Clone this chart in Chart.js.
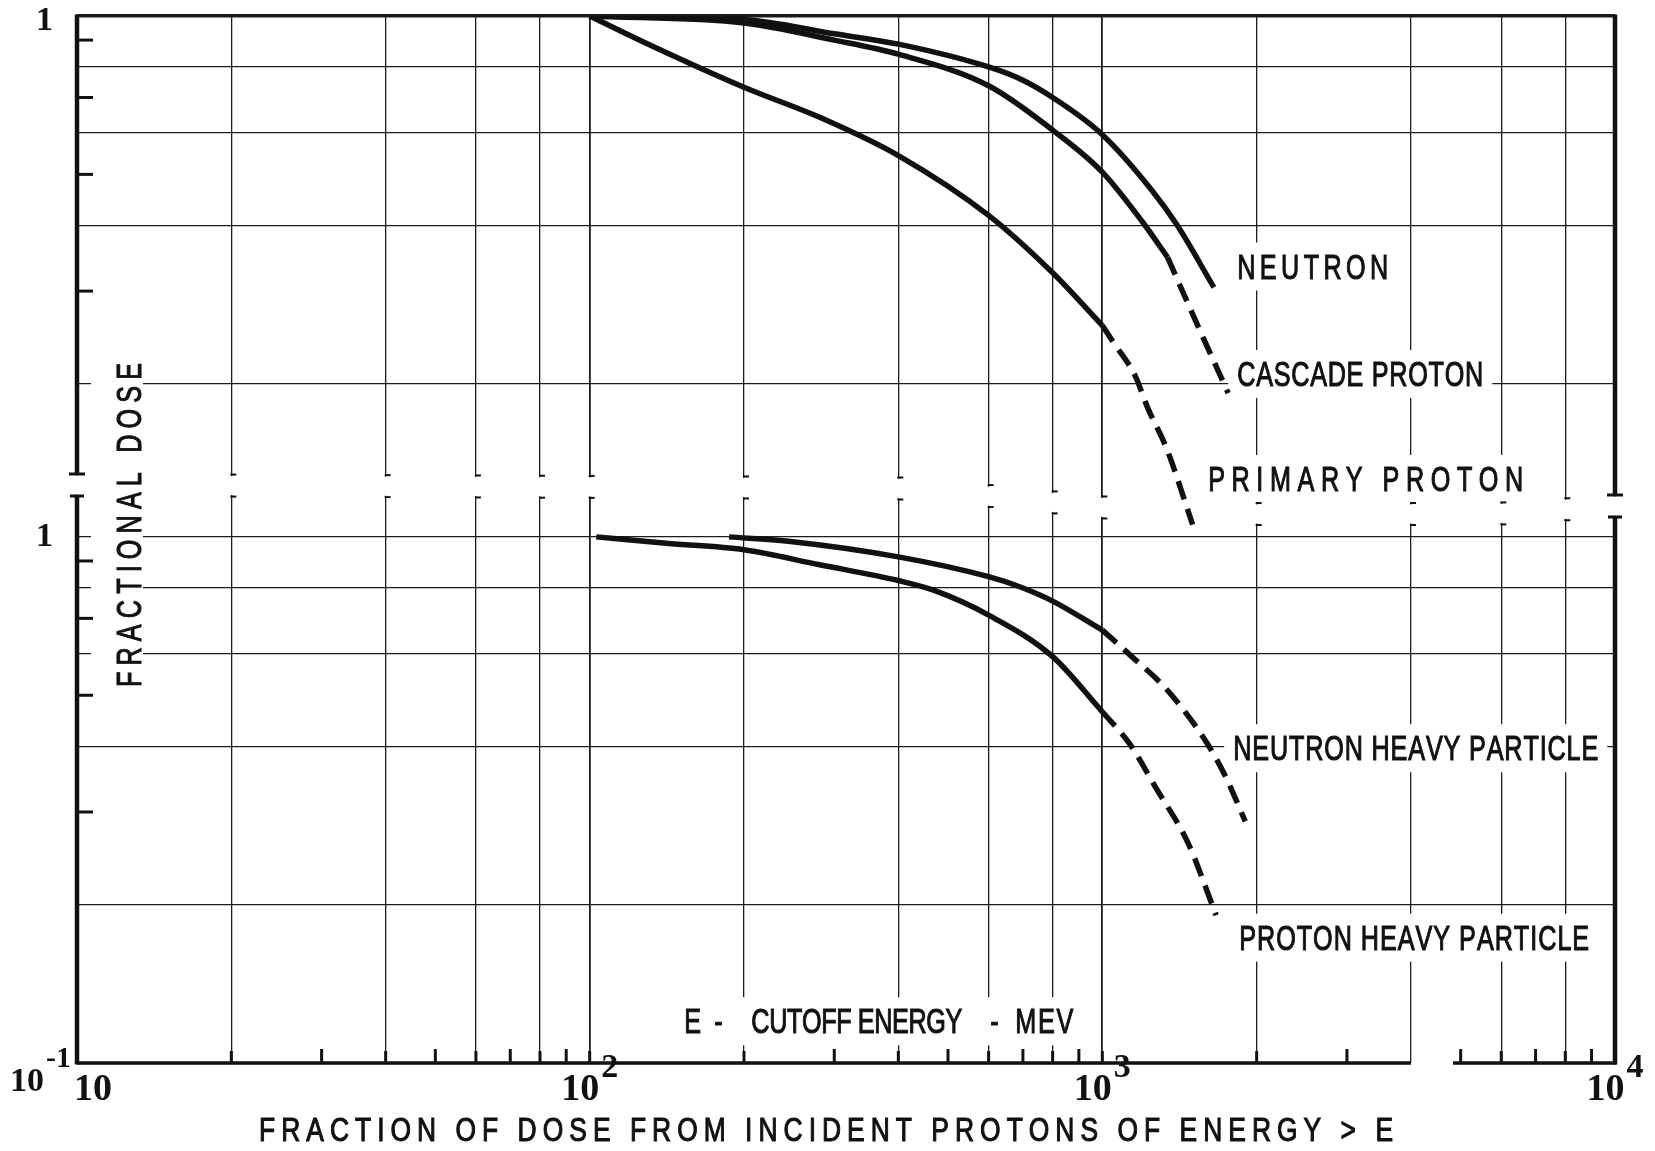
<!DOCTYPE html>
<html>
<head>
<meta charset="utf-8">
<title>Fractional dose vs cutoff energy</title>
<script src="https://cdn.jsdelivr.net/npm/chart.js@4.4.1/dist/chart.umd.min.js"></script>
<style>
  html, body { margin: 0; padding: 0; background: #ffffff; }
  #wrap { width: 1655px; height: 1151px; position: relative; }
</style>
</head>
<body>
<div id="wrap"><canvas id="dose" width="1655" height="1151"></canvas></div>
<script>
// ---------------------------------------------------------------------------
// Data: cutoff energy E (MeV) against fractional dose
// ---------------------------------------------------------------------------

// Upper panel
const neutronE          = [100, 200, 300, 400, 600, 700, 800, 1000, 1250, 1400, 1650];
const neutronDose       = [1.0, 0.985, 0.925, 0.884, 0.80, 0.755, 0.70, 0.595, 0.466, 0.40, 0.305];

const cascadeE          = [100, 200, 300, 400, 600, 800, 1000, 1200, 1340];
const cascadeDose       = [1.0, 0.97, 0.90, 0.846, 0.737, 0.607, 0.505, 0.405, 0.348];
const cascadeExtE       = [1340, 1535, 1760];
const cascadeExtDose    = [0.348, 0.258, 0.192];

const primaryE          = [100, 132, 200, 286, 400, 600, 800, 1000];
const primaryDose       = [1.0, 0.878, 0.732, 0.637, 0.543, 0.418, 0.325, 0.258];
const primaryExtE       = [1000, 1050, 1159, 1226, 1337, 1500];
const primaryExtDose    = [0.258, 0.24, 0.207, 0.180, 0.150, 0.108];

// Lower panel
const neutronHeavyE       = [187, 244, 400, 600, 692, 800, 1000];
const neutronHeavyDose    = [1.0, 0.981, 0.916, 0.840, 0.803, 0.755, 0.665];
const neutronHeavyExtE    = [1000, 1129, 1342, 1596, 1740, 1900];
const neutronHeavyExtDose = [0.665, 0.598, 0.510, 0.407, 0.350, 0.288];

const protonHeavyE        = [103, 141, 200, 281, 400, 470, 600, 800, 1000];
const protonHeavyDose     = [1.0, 0.972, 0.945, 0.885, 0.826, 0.791, 0.710, 0.592, 0.465];
const protonHeavyExtE     = [1000, 1129, 1273, 1469, 1667];
const protonHeavyExtDose  = [0.465, 0.405, 0.333, 0.262, 0.191];

// Axes
const xGridValues   = [10, 20, 40, 60, 80, 100, 200, 400, 600, 800, 1000, 2000, 4000, 6000, 8000, 10000];
const xMinorValues  = [30, 50, 70, 90, 300, 500, 700, 900, 3000, 5000, 7000, 9000];
const xDecades      = [10, 100, 1000, 10000];
const xDecadeSup    = ['', '2', '3', '4'];
const yGridUpper    = [0.2, 0.4, 0.6, 0.8, 1];
const yGridLower    = [0.1, 0.2, 0.4, 0.6, 0.8, 1];
const yMinorValues  = [0.3, 0.5, 0.7, 0.9];
const yLabelUpper   = '1';
const yLabelLower   = '1';
const yLabelBottom  = ['10', '-1'];
const xAxisGap      = [4000, 4830];      // the bottom axis line is interrupted here

const seriesNames = ['NEUTRON', 'CASCADE PROTON', 'PRIMARY PROTON',
                     'NEUTRON HEAVY PARTICLE', 'PROTON HEAVY PARTICLE'];
const xTitle  = 'FRACTION OF DOSE FROM INCIDENT PROTONS OF ENERGY > E';
const yTitle  = 'FRACTIONAL DOSE';
const eNote   = ['E', '-', 'CUTOFF ENERGY', '-', 'MEV'];

// ---------------------------------------------------------------------------
// Styling
// ---------------------------------------------------------------------------
const INK = '#111111';
const GRID = '#1c1c1c';
const SANS = '"Liberation Sans", Arimo, Arial, sans-serif';
const SERIF = '"Liberation Serif", "DejaVu Serif", serif';
const CURVE_W = 5.5;
const DASH = [19, 10];
const SQUEEZE = 0.72;          // condensed lettering
const CAP_FONT = 35;

// Both log scales share one chart area; 1.99 decades tall.
const SPAN = 1.99;

const pts = (xs, ys) => xs.map((e, i) => ({ x: e, y: ys[i] }));

function curve(label, xs, ys, axis, dashed) {
  return {
    label,
    data: pts(xs, ys),
    yAxisID: axis,
    borderColor: INK,
    borderWidth: CURVE_W,
    borderDash: dashed ? DASH : [],
    borderCapStyle: 'butt',
    borderJoinStyle: 'round',
    pointRadius: 0,
    fill: false,
    cubicInterpolationMode: 'monotone'
  };
}

// Draws a row of condensed capitals spread across a given width.
function spacedText(ctx, text, x0, baseline, width, fontPx, squeeze) {
  ctx.font = `${fontPx}px ${SANS}`;
  const chars = [...text];
  const ws = chars.map(c => ctx.measureText(c).width * squeeze);
  const total = ws.reduce((s, w) => s + w, 0);
  const gap = chars.length > 1 && width ? (width - total) / (chars.length - 1) : 0;
  let x = x0;
  chars.forEach((c, i) => {
    ctx.save();
    ctx.translate(x, baseline);
    ctx.scale(squeeze, 1);
    ctx.fillText(c, 0, 0);
    ctx.lineWidth = 1.1;
    ctx.strokeText(c, 0, 0);
    ctx.restore();
    x += ws[i] + gap;
  });
  return x - gap;
}

// Series label anchors, in data coordinates (left edge energy, baseline dose)
const labelAnchors = [
  { axis: 'yUp',  e: 1833, v: 0.317,  width: 151 },
  { axis: 'yUp',  e: 1833, v: 0.198,  width: 246 },
  { axis: 'yUp',  e: 1609, v: 0.1251, width: 315 },
  { axis: 'yLow', e: 1800, v: 0.3763, width: 365 },
  { axis: 'yLow', e: 1849, v: 0.1642, width: 350 }
];

// Break between the two panels: offsets below the chart top, across the x range
const breakProfile = [[0, 458], [0.53, 461], [0.6, 470], [0.67, 481], [0.73, 487], [0.92, 487], [1, 479]];
const BREAK_GAP = 22;

function breakEnd(a, px) {
  const t = (px - a.left) / (a.right - a.left);
  let p = breakProfile[0];
  for (let i = 1; i < breakProfile.length; i++) {
    const q = breakProfile[i];
    if (t <= q[0]) {
      const f = (t - p[0]) / (q[0] - p[0]);
      return a.top + p[1] + f * (q[1] - p[1]);
    }
    p = q;
  }
  return a.top + breakProfile[breakProfile.length - 1][1];
}

function labelBoxes(chart) {
  const { x } = chart.scales;
  return labelAnchors.map((l, i) => {
    const left = x.getPixelForValue(l.e);
    const base = chart.scales[l.axis].getPixelForValue(l.v);
    return { text: seriesNames[i], left, base, width: l.width };
  });
}

function line(ctx, x1, y1, x2, y2) {
  ctx.beginPath();
  ctx.moveTo(x1, y1);
  ctx.lineTo(x2, y2);
  ctx.stroke();
}

const NOTE_E = 153, NOTE_V = 0.1139;

const paperPlugin = {
  id: 'paperPlugin',
  beforeDatasetsDraw(chart) {
    const { ctx, chartArea: a } = chart;
    const { x, yUp, yLow } = chart.scales;
    ctx.save();

    // white gap separating the two panels
    ctx.fillStyle = '#ffffff';
    ctx.beginPath();
    for (let px = a.left - 14; px <= a.right + 14; px += 6) {
      const y = breakEnd(a, Math.min(Math.max(px, a.left), a.right)) + 1.5;
      px === a.left - 14 ? ctx.moveTo(px, y) : ctx.lineTo(px, y);
    }
    for (let px = a.right + 14; px >= a.left - 14; px -= 6) {
      const y = breakEnd(a, Math.min(Math.max(px, a.left), a.right)) + BREAK_GAP - 1.5;
      ctx.lineTo(px, y);
    }
    ctx.closePath();
    ctx.fill();

    // clear the grid behind the lettering
    labelBoxes(chart).forEach(b => {
      ctx.fillRect(b.left - 9, b.base - 36, b.width + 18, 48);
    });
    const noteLeft = x.getPixelForValue(NOTE_E);
    const noteBase = yLow.getPixelForValue(NOTE_V);
    ctx.fillRect(noteLeft - 8, noteBase - 36, 405, 48);
    ctx.fillRect(a.left + 14, yUp.getPixelForValue(1) + 338, 52, 340);

    ctx.strokeStyle = INK;
    ctx.lineCap = 'butt';

    // frame: left and right edges with the break, bottom edge with its gap
    ctx.lineWidth = 4.5;
    [a.left, a.right].forEach((px, k) => {
      const end = breakEnd(a, px);
      const start = end + BREAK_GAP;
      line(ctx, px, a.top - 1.5, px, end);
      line(ctx, px, start, px, a.bottom + 1.5);
      ctx.lineWidth = 3;
      line(ctx, px - 8, end, px + 8, end);
      line(ctx, px - 7, start, px + 7, start);
      ctx.lineWidth = k === 0 ? 4.5 : 3.5;
    });
    ctx.lineWidth = 3.5;
    line(ctx, a.left, a.bottom, x.getPixelForValue(xAxisGap[0]), a.bottom);
    line(ctx, x.getPixelForValue(xAxisGap[1]), a.bottom, a.right + 1.5, a.bottom);

    // short marks on the energy axis
    ctx.lineWidth = 3;
    xMinorValues.forEach(v => {
      const px = x.getPixelForValue(v);
      line(ctx, px, a.bottom, px, a.bottom - 14);
    });
    xGridValues.forEach(v => {
      if (v === 10 || v === 10000 || v === xAxisGap[0]) return;
      const px = x.getPixelForValue(v);
      line(ctx, px, a.bottom, px, a.bottom - 12);
    });

    // short marks on the dose axis, both panels
    [yUp, yLow].forEach(s => {
      yMinorValues.forEach(v => {
        const py = s.getPixelForValue(v);
        line(ctx, a.left, py, a.left + 16, py);
      });
    });

    // little hooks where each grid line stops at the break
    ctx.lineWidth = 2;
    xGridValues.forEach(v => {
      if (v === 10 || v === 10000) return;
      const px = x.getPixelForValue(v);
      const end = breakEnd(a, px);
      line(ctx, px - 1, end, px + 5, end);
      line(ctx, px - 1, end + BREAK_GAP, px + 5, end + BREAK_GAP);
    });

    ctx.restore();
  },

  afterDatasetsDraw(chart) {
    const { ctx, chartArea: a } = chart;
    const { x, yUp, yLow } = chart.scales;
    ctx.save();
    ctx.fillStyle = INK;
    ctx.strokeStyle = INK;
    ctx.textBaseline = 'alphabetic';
    ctx.textAlign = 'left';

    // series names
    labelBoxes(chart).forEach(b => {
      spacedText(ctx, b.text, b.left, b.base, b.width, CAP_FONT, SQUEEZE);
    });

    // "E - CUTOFF ENERGY - MEV"
    const nl = x.getPixelForValue(NOTE_E);
    const nb = yLow.getPixelForValue(NOTE_V);
    const noteOffsets = [0, 30, 67, 306, 331];
    const noteWidths = [0, 0, 211, 0, 58];
    eNote.forEach((t, i) => {
      spacedText(ctx, t, nl + noteOffsets[i], nb, noteWidths[i], CAP_FONT, SQUEEZE);
    });

    // energy axis title
    spacedText(ctx, xTitle, a.left + 182, a.bottom + 78, 1134, 33, 0.8);

    // dose axis title, reading upward
    ctx.save();
    ctx.translate(a.left + 64, yUp.getPixelForValue(1) + 671);
    ctx.rotate(-Math.PI / 2);
    spacedText(ctx, yTitle, 0, 0, 324, CAP_FONT, SQUEEZE);
    ctx.restore();

    // decade labels under the energy axis
    const xBase = `bold 38px ${SERIF}`;
    const xSup = `bold 34px ${SERIF}`;
    xDecades.forEach((v, i) => {
      const px = x.getPixelForValue(v);
      ctx.font = xBase;
      const w1 = ctx.measureText('10').width;
      ctx.font = xSup;
      const sup = xDecadeSup[i];
      const w2 = sup ? ctx.measureText(sup).width + 2 : 0;
      let left = px - (w1 + w2) / 2;
      if (left < a.left - 3) left = a.left - 3;
      if (left + w1 + w2 > chart.width - 4) left = chart.width - 4 - w1 - w2;
      ctx.font = xBase;
      ctx.fillText('10', left, a.bottom + 37);
      if (sup) {
        ctx.font = xSup;
        ctx.fillText(sup, left + w1 + 2, a.bottom + 14);
      }
    });

    // dose labels
    const yBase = `bold 34px ${SERIF}`;
    const ySup = `bold 30px ${SERIF}`;
    ctx.font = yBase;
    ctx.textAlign = 'right';
    ctx.textBaseline = 'middle';
    ctx.fillText(yLabelUpper, a.left - 24, Math.max(yUp.getPixelForValue(1), a.top + 5));
    ctx.fillText(yLabelLower, a.left - 24, yLow.getPixelForValue(1));
    ctx.textBaseline = 'alphabetic';
    ctx.font = ySup;
    const supRight = a.left - 6;
    ctx.fillText(yLabelBottom[1], supRight, yLow.getPixelForValue(0.1) + 4);
    const wSup = ctx.measureText(yLabelBottom[1]).width;
    ctx.font = yBase;
    ctx.fillText(yLabelBottom[0], supRight - wSup - 2, yLow.getPixelForValue(0.1) + 28);

    ctx.restore();
  }
};

new Chart(document.getElementById('dose'), {
  type: 'line',
  data: {
    datasets: [
      curve(seriesNames[0], neutronE, neutronDose, 'yUp', false),
      curve(seriesNames[1], cascadeE, cascadeDose, 'yUp', false),
      curve(seriesNames[1], cascadeExtE, cascadeExtDose, 'yUp', true),
      curve(seriesNames[2], primaryE, primaryDose, 'yUp', false),
      curve(seriesNames[2], primaryExtE, primaryExtDose, 'yUp', true),
      curve(seriesNames[3], neutronHeavyE, neutronHeavyDose, 'yLow', false),
      curve(seriesNames[3], neutronHeavyExtE, neutronHeavyExtDose, 'yLow', true),
      curve(seriesNames[4], protonHeavyE, protonHeavyDose, 'yLow', false),
      curve(seriesNames[4], protonHeavyExtE, protonHeavyExtDose, 'yLow', true)
    ]
  },
  options: {
    responsive: false,
    animation: false,
    events: [],
    layout: { padding: { left: 77, right: 40, top: 16, bottom: 88 } },
    plugins: { legend: { display: false }, tooltip: { enabled: false } },
    scales: {
      x: {
        type: 'logarithmic',
        min: 10,
        max: 10000,
        afterBuildTicks: s => { s.ticks = xGridValues.map(v => ({ value: v })); },
        afterFit: s => { s.height = 0; },
        ticks: { display: false },
        border: { display: false },
        grid: {
          color: GRID,
          drawTicks: false,
          lineWidth: c => (c.tick && (c.tick.value === 100 || c.tick.value === 1000)) ? 1.8 : 1.3
        }
      },
      yUp: {
        type: 'logarithmic',
        position: 'left',
        min: Math.pow(10, -SPAN),
        max: 1,
        afterBuildTicks: s => { s.ticks = yGridUpper.map(v => ({ value: v })); },
        afterFit: s => { s.width = 0; },
        ticks: { display: false },
        border: { display: false },
        grid: {
          color: GRID,
          drawTicks: false,
          lineWidth: c => (c.tick && c.tick.value === 1) ? 3.5 : 1.3
        }
      },
      yLow: {
        type: 'logarithmic',
        position: 'left',
        min: 0.1,
        max: Math.pow(10, SPAN - 1),
        afterBuildTicks: s => { s.ticks = yGridLower.map(v => ({ value: v })); },
        afterFit: s => { s.width = 0; },
        ticks: { display: false },
        border: { display: false },
        grid: {
          color: c => (c.tick && c.tick.value === 0.1) ? 'rgba(0,0,0,0)' : GRID,
          drawTicks: false,
          lineWidth: 1.3
        }
      }
    }
  },
  plugins: [paperPlugin]
});
</script>
</body>
</html>
